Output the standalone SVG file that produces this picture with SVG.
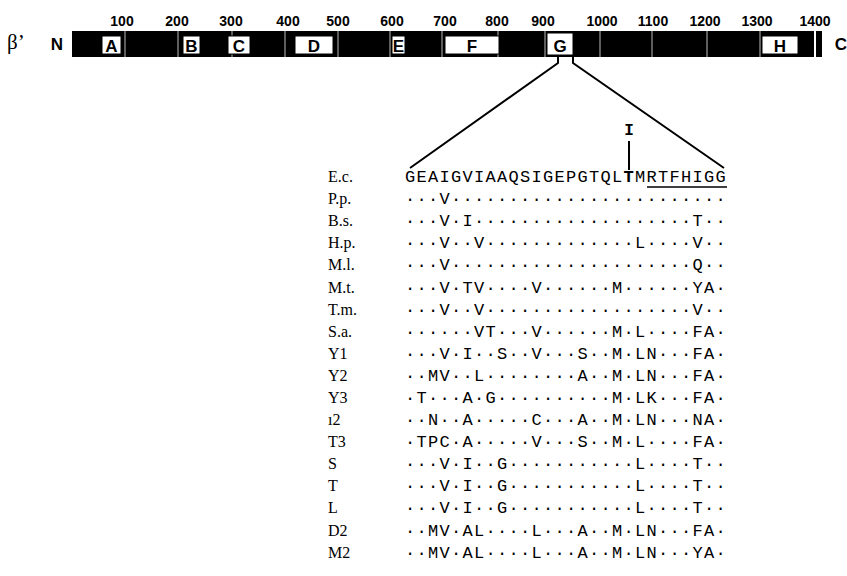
<svg xmlns="http://www.w3.org/2000/svg" width="847" height="576" viewBox="0 0 847 576">
<style>
.num{font-family:"Liberation Sans",Arial,sans-serif;font-weight:bold;font-size:14px;text-anchor:middle;fill:#000}
.dom{font-family:"Liberation Sans",Arial,sans-serif;font-weight:bold;font-size:17px;text-anchor:middle;fill:#000}
.box{fill:#fff;stroke:#000;stroke-width:1}
.div{stroke:#bbb;stroke-width:1}
.lbl{font-family:"Liberation Serif","Times New Roman",serif;font-size:16px;fill:#000}
.seq{font-family:"Liberation Mono","Courier New",monospace;font-size:17px;letter-spacing:1.3px;fill:#000}
.ln{stroke:#000;stroke-width:2;fill:none}
</style>
<rect width="847" height="576" fill="#fff"/>
<g id="scale">
<text class="num" x="122" y="26">100</text>
<text class="num" x="177" y="26">200</text>
<text class="num" x="231" y="26">300</text>
<text class="num" x="288" y="26">400</text>
<text class="num" x="338" y="26">500</text>
<text class="num" x="392" y="26">600</text>
<text class="num" x="445" y="26">700</text>
<text class="num" x="497" y="26">800</text>
<text class="num" x="543" y="26">900</text>
<text class="num" x="602" y="26">1000</text>
<text class="num" x="653" y="26">1100</text>
<text class="num" x="705" y="26">1200</text>
<text class="num" x="757" y="26">1300</text>
<text class="num" x="815" y="26">1400</text>
</g>
<g id="protein">
<text x="7" y="49" font-family="'Liberation Serif',serif" font-size="21">β’</text>
<text class="dom" x="57" y="50" font-size="16">N</text>
<text class="dom" x="841" y="50">C</text>
<rect x="72" y="31" width="750" height="26" fill="#000"/>
<line class="div" x1="125" y1="31" x2="125" y2="57"/>
<line class="div" x1="178" y1="31" x2="178" y2="57"/>
<line class="div" x1="232" y1="31" x2="232" y2="57"/>
<line class="div" x1="285" y1="31" x2="285" y2="57"/>
<line class="div" x1="338" y1="31" x2="338" y2="57"/>
<line class="div" x1="390" y1="31" x2="390" y2="57"/>
<line class="div" x1="442" y1="31" x2="442" y2="57"/>
<line class="div" x1="498" y1="31" x2="498" y2="57"/>
<line class="div" x1="545" y1="31" x2="545" y2="57"/>
<line class="div" x1="600" y1="31" x2="600" y2="57"/>
<line class="div" x1="652" y1="31" x2="652" y2="57"/>
<line class="div" x1="707" y1="31" x2="707" y2="57"/>
<line class="div" x1="760" y1="31" x2="760" y2="57"/>
<line x1="815" y1="31" x2="815" y2="57" stroke="#fff" stroke-width="2"/>
</g>
<g id="domain-A"><rect class="box" x="102" y="36" width="19" height="18"/><text class="dom" x="111.5" y="52">A</text></g>
<g id="domain-B"><rect class="box" x="183" y="36" width="17" height="18"/><text class="dom" x="191.5" y="52">B</text></g>
<g id="domain-C"><rect class="box" x="228" y="36" width="22" height="18"/><text class="dom" x="239" y="52">C</text></g>
<g id="domain-D"><rect class="box" x="295" y="36" width="38" height="18"/><text class="dom" x="314" y="52">D</text></g>
<g id="domain-E"><rect class="box" x="392" y="36" width="13" height="18"/><text class="dom" x="398.5" y="52">E</text></g>
<g id="domain-F"><rect class="box" x="445" y="36" width="54" height="18"/><text class="dom" x="472" y="52">F</text></g>
<g id="domain-G"><rect class="box" x="547" y="33" width="26" height="22"/><text class="dom" x="560" y="52">G</text></g>
<g id="domain-H"><rect class="box" x="762" y="36" width="36" height="18"/><text class="dom" x="780" y="52">H</text></g>
<g id="connectors">
<polyline class="ln" points="558,55 558,63 410,168"/>
<polyline class="ln" points="573,55 573,63 724,168"/>
<line class="ln" x1="629" y1="141" x2="629" y2="170"/>
<line stroke="#000" stroke-width="1.5" x1="647" y1="187" x2="727" y2="187"/>
</g>
<g id="mutation">
<text x="629" y="135" text-anchor="middle" font-family="'Liberation Mono',monospace" font-weight="bold" font-size="16">I</text>
</g>
<g id="alignment">
<text class="lbl" x="328" y="182">E.c.</text>
<text class="seq" x="405" y="182">GEAIGVIAAQSIGEPGTQL<tspan font-weight="bold">T</tspan>MRTFHIGG</text>
<text class="lbl" x="328" y="204">P.p.</text>
<text class="seq" x="405" y="204">···V························</text>
<text class="lbl" x="328" y="226">B.s.</text>
<text class="seq" x="405" y="226">···V·I···················T··</text>
<text class="lbl" x="328" y="248">H.p.</text>
<text class="seq" x="405" y="248">···V··V·············L····V··</text>
<text class="lbl" x="328" y="270">M.l.</text>
<text class="seq" x="405" y="270">···V·····················Q··</text>
<text class="lbl" x="328" y="293">M.t.</text>
<text class="seq" x="405" y="293">···V·TV····V······M······YA·</text>
<text class="lbl" x="328" y="315">T.m.</text>
<text class="seq" x="405" y="315">···V··V··················V··</text>
<text class="lbl" x="328" y="337">S.a.</text>
<text class="seq" x="405" y="337">······VT···V······M·L····FA·</text>
<text class="lbl" x="328" y="359">Y1</text>
<text class="seq" x="405" y="359">···V·I··S··V···S··M·LN···FA·</text>
<text class="lbl" x="328" y="381">Y2</text>
<text class="seq" x="405" y="381">··MV··L········A··M·LN···FA·</text>
<text class="lbl" x="328" y="403">Y3</text>
<text class="seq" x="405" y="403">·T···A·G··········M·LK···FA·</text>
<text class="lbl" x="328" y="425">ı2</text>
<text class="seq" x="405" y="425">··N··A·····C···A··M·LN···NA·</text>
<text class="lbl" x="328" y="447">T3</text>
<text class="seq" x="405" y="447">·TPC·A·····V···S··M·L····FA·</text>
<text class="lbl" x="328" y="469">S</text>
<text class="seq" x="405" y="469">···V·I··G···········L····T··</text>
<text class="lbl" x="328" y="491">T</text>
<text class="seq" x="405" y="491">···V·I··G···········L····T··</text>
<text class="lbl" x="328" y="513">L</text>
<text class="seq" x="405" y="513">···V·I··G···········L····T··</text>
<text class="lbl" x="328" y="536">D2</text>
<text class="seq" x="405" y="536">··MV·AL····L···A··M·LN···FA·</text>
<text class="lbl" x="328" y="558">M2</text>
<text class="seq" x="405" y="558">··MV·AL····L···A··M·LN···YA·</text>
</g>
</svg>
